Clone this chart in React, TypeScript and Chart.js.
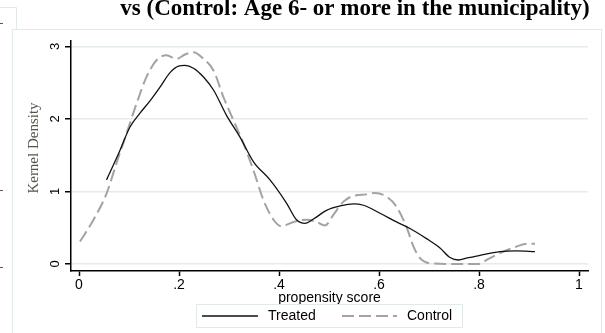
import React, { useEffect, useRef } from 'react';
import { Chart, registerables } from 'chart.js';

Chart.register(...registerables);

const titleText = 'vs (Control: Age 6- or more in the municipality)';
const xAxisTitle = 'propensity score';
const yAxisTitle = 'Kernel Density';
const seriesNames = ['Treated', 'Control'];

const treatedX = [0.055, 0.079, 0.102, 0.122, 0.142, 0.162, 0.182, 0.199, 0.212, 0.229, 0.249, 0.269, 0.295, 0.322, 0.349, 0.382, 0.415, 0.435, 0.452, 0.469, 0.495, 0.522, 0.549, 0.569, 0.602, 0.635, 0.662, 0.695, 0.722, 0.742, 0.759, 0.775, 0.802, 0.842, 0.875, 0.912];
const treatedY = [1.16, 1.52, 1.89, 2.08, 2.25, 2.44, 2.64, 2.73, 2.74, 2.70, 2.58, 2.40, 2.05, 1.75, 1.41, 1.16, 0.84, 0.61, 0.56, 0.62, 0.74, 0.80, 0.83, 0.81, 0.70, 0.58, 0.49, 0.35, 0.22, 0.09, 0.055, 0.08, 0.12, 0.17, 0.18, 0.17];

const controlX = [0.002, 0.029, 0.055, 0.075, 0.095, 0.115, 0.135, 0.155, 0.175, 0.195, 0.212, 0.229, 0.249, 0.269, 0.289, 0.309, 0.329, 0.349, 0.369, 0.389, 0.405, 0.429, 0.455, 0.475, 0.492, 0.509, 0.529, 0.549, 0.575, 0.592, 0.615, 0.635, 0.655, 0.669, 0.682, 0.702, 0.742, 0.802, 0.815, 0.842, 0.875, 0.895, 0.912];
const controlY = [0.31, 0.61, 0.97, 1.39, 1.80, 2.21, 2.58, 2.81, 2.88, 2.83, 2.89, 2.92, 2.83, 2.67, 2.30, 1.98, 1.66, 1.29, 0.88, 0.61, 0.52, 0.58, 0.61, 0.58, 0.53, 0.68, 0.86, 0.94, 0.96, 0.98, 0.93, 0.79, 0.51, 0.24, 0.08, 0.01, 0, 0, 0.055, 0.15, 0.24, 0.28, 0.28];

const xTickValues = [0, 0.2, 0.4, 0.6, 0.8, 1];
const xTickLabels = ['0', '.2', '.4', '.6', '.8', '1'];
const yTickValues = [0, 1, 2, 3];
const yTickLabels = ['0', '1', '2', '3'];

const SANS = "'Liberation Sans', Arial, sans-serif";
const SERIF = "'Liberation Serif', 'Times New Roman', serif";
const CONTROL_COLOR = '#a3a3a3';
const CONTROL_DASH = [12, 5];

const decorPlugin = {
  id: 'decor',
  beforeDraw(chart: any) {
    const ctx = chart.ctx;
    ctx.save();
    ctx.fillStyle = '#ffffff';
    ctx.fillRect(0, 0, chart.width, chart.height);
    // outer graph frame
    ctx.strokeStyle = '#e1e9eb';
    ctx.lineWidth = 1;
    ctx.strokeRect(12.5, 29.5, 589, 330);
    // neighbouring panel edge
    ctx.beginPath();
    ctx.moveTo(0, 7.5);
    ctx.lineTo(16.5, 7.5);
    ctx.lineTo(16.5, 29.5);
    ctx.stroke();
    // tiny marks at the far left edge
    ctx.strokeStyle = '#555';
    [23, 190, 267].forEach((y) => {
      ctx.beginPath();
      ctx.moveTo(0, y + 0.5);
      ctx.lineTo(3, y + 0.5);
      ctx.stroke();
    });
    ctx.restore();
  },
  afterDraw(chart: any) {
    const ctx = chart.ctx;
    ctx.save();
    // title (cut at top)
    ctx.fillStyle = '#000';
    ctx.font = `bold 23px ${SERIF}`;
    ctx.textAlign = 'center';
    ctx.textBaseline = 'alphabetic';
    ctx.fillText(titleText, 355, 15);

    // y axis title
    ctx.save();
    ctx.translate(34, 148);
    ctx.rotate(-Math.PI / 2);
    ctx.font = `15px ${SERIF}`;
    ctx.fillStyle = '#58534c';
    ctx.textAlign = 'center';
    ctx.textBaseline = 'middle';
    ctx.fillText(yAxisTitle, 0, 0);
    ctx.restore();

    // legend box
    const bx = 196.5, by = 304.5, bw = 266, bh = 23;
    ctx.strokeStyle = '#e1e9eb';
    ctx.lineWidth = 1;
    ctx.strokeRect(bx, by, bw, bh);
    const ly = 316;
    const ds = chart.data.datasets;
    ctx.font = `14px ${SANS}`;
    ctx.fillStyle = '#000';
    ctx.textAlign = 'left';
    ctx.textBaseline = 'middle';
    // Treated
    ctx.beginPath();
    ctx.strokeStyle = ds[0].borderColor;
    ctx.lineWidth = ds[0].borderWidth;
    ctx.setLineDash([]);
    ctx.moveTo(202, ly);
    ctx.lineTo(258, ly);
    ctx.stroke();
    ctx.fillText(ds[0].label, 268, ly);
    // Control
    ctx.beginPath();
    ctx.strokeStyle = ds[1].borderColor;
    ctx.lineWidth = ds[1].borderWidth;
    ctx.setLineDash(ds[1].borderDash);
    ctx.moveTo(342, ly);
    ctx.lineTo(397, ly);
    ctx.stroke();
    ctx.setLineDash([]);
    ctx.fillText(ds[1].label, 407, ly);
    ctx.restore();
  },
};

export default function App() {
  const canvasRef = useRef<HTMLCanvasElement | null>(null);

  useEffect(() => {
    document.body.style.margin = '0';
    const canvas = canvasRef.current;
    if (!canvas) return;
    const chart = new Chart(canvas, {
      type: 'line',
      data: {
        datasets: [
          {
            label: seriesNames[0],
            data: treatedX.map((x, i) => ({ x, y: treatedY[i] })),
            borderColor: '#111111',
            borderWidth: 1.3,
            pointRadius: 0,
            fill: false,
            cubicInterpolationMode: 'monotone',
          },
          {
            label: seriesNames[1],
            data: controlX.map((x, i) => ({ x, y: controlY[i] })),
            borderColor: CONTROL_COLOR,
            borderWidth: 2,
            borderDash: CONTROL_DASH,
            pointRadius: 0,
            fill: false,
            cubicInterpolationMode: 'monotone',
          },
        ],
      },
      options: {
        responsive: false,
        animation: false,
        devicePixelRatio: 1,
        layout: { padding: { left: 0, right: 17, top: 41, bottom: 0 } },
        plugins: {
          legend: { display: false },
          title: { display: false },
          tooltip: { enabled: false },
        },
        scales: {
          x: {
            type: 'linear',
            min: -0.016,
            max: 1.018,
            afterBuildTicks: (s: any) => {
              s.ticks = xTickValues.map((v) => ({ value: v }));
            },
            afterFit: (s: any) => {
              s.height = 62;
            },
            ticks: {
              autoSkip: false,
              maxRotation: 0,
              minRotation: 0,
              padding: 1,
              color: '#000',
              font: { family: SANS, size: 14 },
              callback: (v: any) => {
                const i = xTickValues.findIndex((t) => Math.abs(t - v) < 1e-9);
                return i >= 0 ? xTickLabels[i] : '';
              },
            },
            grid: {
              drawOnChartArea: false,
              drawTicks: true,
              tickLength: 5,
              tickColor: '#000',
              tickWidth: 1.5,
            },
            border: { color: '#000', width: 1.5 },
            title: {
              display: true,
              text: xAxisTitle,
              color: '#000',
              font: { family: SANS, size: 14 },
              padding: { top: 0, bottom: 26 },
            },
          },
          y: {
            type: 'linear',
            min: -0.097,
            max: 3.076,
            afterBuildTicks: (s: any) => {
              s.ticks = yTickValues.map((v) => ({ value: v }));
            },
            afterFit: (s: any) => {
              s.width = 71;
            },
            ticks: {
              autoSkip: false,
              minRotation: 90,
              maxRotation: 90,
              crossAlign: 'center',
              padding: 6,
              color: '#000',
              font: { family: SANS, size: 13 },
              callback: (v: any) => {
                const i = yTickValues.findIndex((t) => Math.abs(t - v) < 1e-9);
                return i >= 0 ? yTickLabels[i] : '';
              },
            },
            grid: {
              color: '#e4ecee',
              lineWidth: 1.5,
              drawTicks: true,
              tickLength: 6,
              tickColor: '#000',
              tickWidth: 1.5,
            },
            border: { color: '#000', width: 1.5 },
          },
        },
      },
      plugins: [decorPlugin],
    } as any);
    return () => chart.destroy();
  }, []);

  return (
    <div style={{ position: 'relative', width: 605, height: 333 }}>
      <canvas ref={canvasRef} width={605} height={333} style={{ display: 'block', width: 605, height: 333 }} />
    </div>
  );
}
